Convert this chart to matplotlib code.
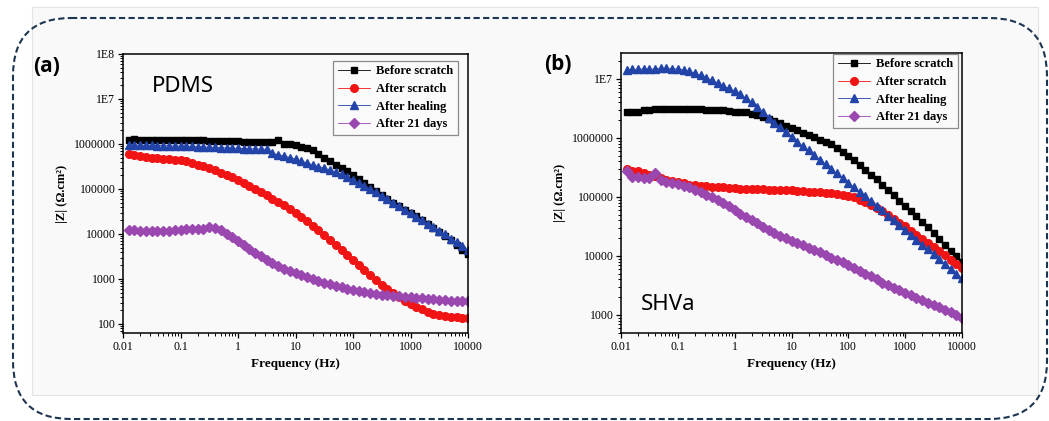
import matplotlib
matplotlib.use("Agg")
import matplotlib.pyplot as plt
from matplotlib.patches import FancyBboxPatch, Rectangle
from matplotlib.ticker import FixedLocator, FixedFormatter, LogLocator, NullFormatter

# frequencies (Hz), 10 points per decade
freq = [0.0126, 0.0158, 0.02, 0.0251, 0.0316, 0.0398, 0.0501, 0.0631, 0.0794,
        0.1, 0.126, 0.158, 0.2, 0.251, 0.316, 0.398, 0.501, 0.631, 0.794,
        1, 1.26, 1.58, 2, 2.51, 3.16, 3.98, 5.01, 6.31, 7.94,
        10, 12.6, 15.8, 20, 25.1, 31.6, 39.8, 50.1, 63.1, 79.4,
        100, 126, 158, 200, 251, 316, 398, 501, 631, 794,
        1000, 1260, 1580, 2000, 2510, 3160, 3980, 5010, 6310, 7940,
        10000]

# (a) PDMS  |Z| values
pdms_before = [1.25e6, 1.26e6, 1.25e6, 1.25e6, 1.24e6, 1.25e6, 1.24e6, 1.24e6, 1.23e6,
               1.23e6, 1.22e6, 1.22e6, 1.21e6, 1.2e6, 1.19e6, 1.18e6, 1.17e6, 1.16e6, 1.15e6,
               1.14e6, 1.13e6, 1.12e6, 1.11e6, 1.1e6, 1.1e6, 1.1e6, 1.22e6, 1.02e6, 9.8e5,
               9.3e5, 8.7e5, 8.2e5, 7.2e5, 6.0e5, 5.0e5, 4.2e5, 3.5e5, 2.9e5, 2.45e5,
               2.0e5, 1.66e5, 1.35e5, 1.1e5, 8.9e4, 7.2e4, 6.0e4, 5.0e4, 4.2e4, 3.5e4,
               2.95e4, 2.45e4, 2.0e4, 1.66e4, 1.35e4, 1.1e4, 8.9e3, 7.2e3, 5.8e3, 4.5e3,
               3.6e3]
pdms_scratch = [5.9e5, 5.6e5, 5.4e5, 5.2e5, 5.0e5, 4.9e5, 4.7e5, 4.6e5, 4.4e5,
                4.3e5, 4.1e5, 3.8e5, 3.5e5, 3.2e5, 2.9e5, 2.6e5, 2.3e5, 2.0e5, 1.8e5,
                1.58e5, 1.36e5, 1.17e5, 1.0e5, 8.6e4, 7.3e4, 6.1e4, 5.1e4, 4.3e4, 3.6e4,
                2.9e4, 2.35e4, 1.9e4, 1.52e4, 1.2e4, 9.4e3, 7.3e3, 5.7e3, 4.4e3, 3.4e3,
                2.6e3, 2.0e3, 1.55e3, 1.2e3, 930, 740, 590, 480, 390, 320,
                275, 240, 210, 186, 170, 158, 151, 145, 141, 138,
                135]
pdms_healing = [9.4e5, 9.5e5, 9.4e5, 9.3e5, 9.3e5, 9.2e5, 9.2e5, 9.1e5, 9.0e5,
                9.0e5, 8.9e5, 8.8e5, 8.7e5, 8.6e5, 8.5e5, 8.4e5, 8.3e5, 8.2e5, 8.1e5,
                8.0e5, 7.9e5, 7.8e5, 7.8e5, 7.7e5, 7.6e5, 6.2e5, 5.8e5, 5.4e5, 5.0e5,
                4.6e5, 4.2e5, 3.8e5, 3.45e5, 3.15e5, 2.9e5, 2.65e5, 2.4e5, 2.1e5, 1.8e5,
                1.6e5, 1.38e5, 1.17e5, 1.0e5, 8.5e4, 7.1e4, 5.9e4, 4.9e4, 4.1e4, 3.4e4,
                2.9e4, 2.4e4, 2.0e4, 1.7e4, 1.41e4, 1.17e4, 9.8e3, 7.9e3, 6.6e3, 5.4e3,
                4.4e3]
pdms_21days = [1.23e4, 1.2e4, 1.15e4, 1.15e4, 1.15e4, 1.17e4, 1.15e4, 1.17e4, 1.2e4,
               1.23e4, 1.26e4, 1.29e4, 1.26e4, 1.32e4, 1.41e4, 1.35e4, 1.2e4, 1.02e4, 8.5e3,
               6.9e3, 5.6e3, 4.6e3, 3.8e3, 3.2e3, 2.7e3, 2.3e3, 1.95e3, 1.7e3, 1.5e3,
               1.34e3, 1.23e3, 1.1e3, 1.0e3, 910, 830, 760, 690, 650, 600,
               560, 540, 510, 490, 470, 450, 440, 420, 410, 400,
               390, 380, 370, 363, 355, 347, 340, 331, 331, 324,
               316]

# (b) SHVa  |Z| values
shva_before = [2.75e6, 2.75e6, 2.75e6, 2.95e6, 3.0e6, 3.1e6, 3.15e6, 3.15e6, 3.15e6,
               3.15e6, 3.15e6, 3.1e6, 3.1e6, 3.1e6, 3.0e6, 3.0e6, 2.95e6, 2.95e6, 2.9e6,
               2.8e6, 2.75e6, 2.7e6, 2.55e6, 2.45e6, 2.3e6, 2.1e6, 1.9e6, 1.78e6, 1.62e6,
               1.48e6, 1.35e6, 1.23e6, 1.12e6, 1.02e6, 9.3e5, 8.5e5, 7.8e5, 6.8e5, 5.8e5,
               4.9e5, 4.2e5, 3.5e5, 2.9e5, 2.4e5, 2.0e5, 1.62e5, 1.32e5, 1.07e5, 8.7e4,
               7.1e4, 5.8e4, 4.7e4, 3.8e4, 3.1e4, 2.45e4, 1.95e4, 1.55e4, 1.23e4, 9.8e3,
               7.9e3]
shva_scratch = [2.95e5, 2.8e5, 2.7e5, 2.5e5, 2.4e5, 2.25e5, 2.1e5, 1.95e5, 1.85e5,
                1.78e5, 1.7e5, 1.62e5, 1.58e5, 1.55e5, 1.51e5, 1.48e5, 1.45e5, 1.45e5, 1.41e5,
                1.41e5, 1.38e5, 1.38e5, 1.35e5, 1.35e5, 1.35e5, 1.32e5, 1.32e5, 1.32e5, 1.29e5,
                1.29e5, 1.26e5, 1.26e5, 1.23e5, 1.2e5, 1.2e5, 1.17e5, 1.15e5, 1.12e5, 1.1e5,
                1.05e5, 9.8e4, 8.9e4, 8.3e4, 7.4e4, 6.6e4, 5.8e4, 5.0e4, 4.3e4, 3.6e4,
                3.2e4, 2.7e4, 2.3e4, 1.95e4, 1.66e4, 1.41e4, 1.2e4, 1.02e4, 8.7e3, 7.4e3,
                6.3e3]
shva_healing = [1.41e7, 1.45e7, 1.45e7, 1.48e7, 1.45e7, 1.48e7, 1.51e7, 1.51e7, 1.48e7,
                1.48e7, 1.41e7, 1.35e7, 1.26e7, 1.15e7, 1.05e7, 9.5e6, 8.5e6, 7.6e6, 6.9e6,
                6.2e6, 5.5e6, 4.7e6, 4.0e6, 3.3e6, 2.7e6, 2.2e6, 1.82e6, 1.51e6, 1.26e6,
                1.05e6, 8.7e5, 7.2e5, 6.2e5, 5.1e5, 4.3e5, 3.55e5, 2.95e5, 2.5e5, 2.1e5,
                1.74e5, 1.45e5, 1.2e5, 1.02e5, 8.5e4, 7.1e4, 5.9e4, 4.8e4, 4.0e4, 3.3e4,
                2.75e4, 2.3e4, 1.86e4, 1.55e4, 1.29e4, 1.07e4, 8.9e3, 7.2e3, 6.0e3, 5.0e3,
                4.2e3]
shva_21days = [2.7e5, 2.2e5, 2.15e5, 2.1e5, 2.1e5, 2.5e5, 1.95e5, 1.82e5, 1.74e5,
               1.66e5, 1.55e5, 1.45e5, 1.32e5, 1.2e5, 1.1e5, 1.0e5, 8.9e4, 7.9e4, 7.1e4,
               6.0e4, 5.2e4, 4.6e4, 4.0e4, 3.55e4, 3.1e4, 2.75e4, 2.45e4, 2.2e4, 2.0e4,
               1.82e4, 1.66e4, 1.51e4, 1.38e4, 1.26e4, 1.15e4, 1.05e4, 9.3e3, 8.5e3, 7.8e3,
               6.9e3, 6.3e3, 5.6e3, 5.0e3, 4.5e3, 4.0e3, 3.55e3, 3.2e3, 2.9e3, 2.6e3,
               2.35e3, 2.15e3, 1.95e3, 1.78e3, 1.62e3, 1.48e3, 1.35e3, 1.23e3, 1.12e3, 1.0e3,
               890]

labels = ["Before scratch", "After scratch", "After healing", "After 21 days"]
colors = ["#000000", "#f01414", "#2243a8", "#9a48b0"]
markers = ["s", "o", "^", "D"]
msizes = [5.0, 5.5, 6.0, 4.6]

x_ticks = [0.01, 0.1, 1, 10, 100, 1000, 10000]
x_labels = ["0.01", "0.1", "1", "10", "100", "1000", "10000"]
ya_ticks = [100, 1000, 10000, 100000, 1000000, 1e7, 1e8]
ya_labels = ["100", "1000", "10000", "100000", "1000000", "1E7", "1E8"]
yb_ticks = [1000, 10000, 100000, 1000000, 1e7]
yb_labels = ["1000", "10000", "100000", "1000000", "1E7"]

W, H = 1049, 421
fig = plt.figure(figsize=(W / 100, H / 100), dpi=100)
fig.patch.set_facecolor("white")

# background layer in pixel coordinates
bg = fig.add_axes([0, 0, 1, 1], zorder=0)
bg.set_xlim(0, W)
bg.set_ylim(H, 0)
bg.axis("off")
bg.add_patch(Rectangle((32, 7), 1006, 388, facecolor="#f9f9f9", edgecolor="#e4e4e4", lw=0.8))
bg.add_patch(FancyBboxPatch((13, 18), 1034, 401, boxstyle="round,pad=0,rounding_size=58",
                            fill=False, edgecolor="#1d3550", lw=1.5, linestyle=(0, (3, 1.6))))

sans = ["Open Sans", "DejaVu Sans"]
bg.text(47, 66, "(a)", fontsize=15, fontweight="bold", family=sans, ha="center", va="center")
bg.text(558, 64, "(b)", fontsize=15, fontweight="bold", family=sans, ha="center", va="center")
bg.text(152, 86, "PDMS", fontsize=16, family="Noto Sans", ha="left", va="center")
bg.text(641, 304, "SHVa", fontsize=16, family="Noto Sans", ha="left", va="center")

serif = "Liberation Serif"


def panel(rect, series, yticks, ylabels, ylim, anchor):
    ax = fig.add_axes(rect, zorder=1)
    ax.set_facecolor("none")
    for vals, lab, c, m, ms in zip(series, labels, colors, markers, msizes):
        ax.plot(freq, vals, color=c, marker=m, ms=ms, mec=c, mfc=c, lw=0.6, label=lab)
    ax.set_xscale("log")
    ax.set_yscale("log")
    ax.set_xlim(0.01, 10000)
    ax.set_ylim(*ylim)
    ax.xaxis.set_major_locator(FixedLocator(x_ticks))
    ax.xaxis.set_major_formatter(FixedFormatter(x_labels))
    ax.yaxis.set_major_locator(FixedLocator(yticks))
    ax.yaxis.set_major_formatter(FixedFormatter(ylabels))
    ax.xaxis.set_minor_locator(LogLocator(base=10, subs=range(2, 10), numticks=20))
    ax.yaxis.set_minor_locator(LogLocator(base=10, subs=range(2, 10), numticks=20))
    ax.xaxis.set_minor_formatter(NullFormatter())
    ax.yaxis.set_minor_formatter(NullFormatter())
    ax.tick_params(which="major", direction="out", length=3.5, width=0.9, pad=2, labelsize=8.5)
    ax.tick_params(which="minor", direction="out", length=2, width=0.7)
    for t in ax.get_xticklabels() + ax.get_yticklabels():
        t.set_family(serif)
    for s in ax.spines.values():
        s.set_linewidth(1.1)
    ax.set_xlabel("Frequency (Hz)", fontsize=9.5, fontweight="bold", family=serif, labelpad=4)
    ax.set_ylabel("|Z| (Ω.cm²)", fontsize=9, fontweight="bold", family=serif, labelpad=4)
    leg = ax.legend(loc="upper right", bbox_to_anchor=anchor, borderaxespad=0,
                    prop={"family": serif, "weight": "bold", "size": 9},
                    frameon=True, fancybox=False, edgecolor="#8a8a8a", facecolor="#fafafa",
                    framealpha=1, handlelength=2.6, handletextpad=0.5,
                    labelspacing=0.45, borderpad=0.35)
    leg.get_frame().set_linewidth(0.9)
    return ax


panel([123 / W, 1 - 333 / H, 345 / W, 279 / H],
      [pdms_before, pdms_scratch, pdms_healing, pdms_21days],
      ya_ticks, ya_labels, (63, 1e8), (0.971, 0.975))
panel([621 / W, 1 - 333 / H, 341 / W, 280 / H],
      [shva_before, shva_scratch, shva_healing, shva_21days],
      yb_ticks, yb_labels, (495, 2.75e7), (0.988, 0.996))

fig.savefig("out.png", dpi=100, facecolor="white")
